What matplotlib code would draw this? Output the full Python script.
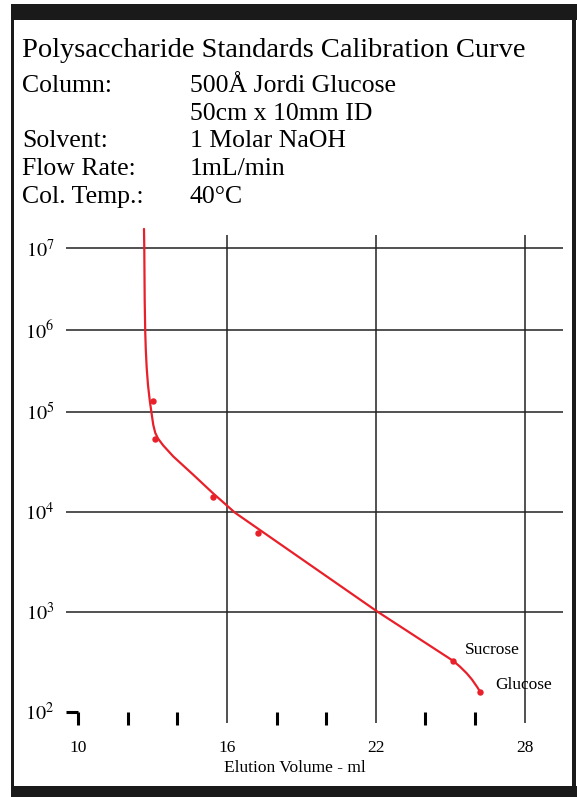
import numpy as np
import matplotlib
matplotlib.use("Agg")
import matplotlib.pyplot as plt
from matplotlib.patches import Rectangle

plt.rcParams["font.family"] = ["Liberation Serif", "DejaVu Serif"]
plt.rcParams["mathtext.fontset"] = "stix"

# Calibration curve (elution volume ml, molecular weight)
curve_vol = [12.649, 12.661, 12.677, 12.698, 12.722, 12.758, 12.81, 12.879,
             12.952, 13.024, 13.105, 13.214, 13.427, 13.831, 14.625, 15.444,
             16.319, 18.0, 22.032, 25.121, 25.391, 25.661, 25.875, 26.089, 26.198]
curve_mw = [1.73e7, 9.84e6, 2.34e6, 9.8e5, 5.73e5, 3.45e5, 2.14e5, 1.40e5,
            9.8e4, 7.41e4, 6.17e4, 5.43e4, 4.62e4, 3.59e4, 2.37e4, 1.53e4,
            9.84e3, 5.05e3, 1.02e3, 324, 284, 244, 211, 177, 160]

# Standards (dots)
std_vol = [13.01, 13.08, 15.44, 17.23, 25.12, 26.2]
std_mw = [1.36e5, 5.4e4, 1.4e4, 6.1e3, 324, 160]
std_names = ["", "", "", "", "Sucrose", "Glucose"]

y_decades = [1e2, 1e3, 1e4, 1e5, 1e6, 1e7]
y_labels = ["$10^{2}$", "$10^{3}$", "$10^{4}$", "$10^{5}$", "$10^{6}$", "$10^{7}$"]
x_major = [10, 16, 22, 28]
x_minor = [10, 12, 14, 18, 20, 24, 26]

info_keys = ["Column:", "", "Solvent:", "Flow Rate:", "Col. Temp.:"]
info_vals = ["500Å Jordi Glucose", "50cm x 10mm ID", "1 Molar NaOH", "1mL/min", "40°C"]

RED = "#e8202a"
GRID = "#222222"

# the upper decades on the original sheet are squeezed
K = 0.818


def fwd(y):
    t = np.log10(np.clip(y, 1e-300, None))
    return np.where(t <= 5, t, 5 + (t - 5) * K)


def inv(T):
    T = np.asarray(T, dtype=float)
    return 10 ** np.where(T <= 5, T, 5 + (T - 5) / K)


W, H = 577, 797
fig = plt.figure(figsize=(W / 100, H / 100), dpi=100)

# frame
def px_rect(x0, y0, x1, y1):
    fig.add_artist(Rectangle((x0 / W, 1 - y1 / H), (x1 - x0) / W, (y1 - y0) / H,
                             transform=fig.transFigure, color="#1a1a1a", lw=0))

px_rect(11, 4, 577, 20)
px_rect(11, 786, 577, 797)
px_rect(11, 4, 14, 797)
px_rect(572, 4, 576, 797)

# header text
fig.text(22 / W, 1 - 57 / H, "Polysaccharide Standards Calibration Curve",
         fontsize=20.5, va="baseline", ha="left")
for i, (k, v) in enumerate(zip(info_keys, info_vals)):
    yb = 1 - (92 + i * 27.7) / H
    fig.text(22 / W, yb, k, fontsize=18.5, va="baseline", ha="left")
    fig.text(190 / W, yb, v, fontsize=18.5, va="baseline", ha="left")

ax = fig.add_axes([60 / W, 1 - 730 / H, 510 / W, 505 / H])
ax.set_yscale("function", functions=(fwd, inv))
ax.set_xlim(9.262, 29.827)
ax.set_ylim(float(inv(1.82)), float(inv(6.87)))
for s in ax.spines.values():
    s.set_visible(False)

# grid
ax.hlines(y_decades[1:], 9.52, 29.54, color=GRID, lw=1.1)
ax.hlines(y_decades[0], 9.52, 10.0, color="black", lw=2.2)
ax.vlines(x_major[1:], float(inv(1.89)), float(inv(6.77)), color=GRID, lw=1.1)
ax.vlines(x_minor, float(inv(1.87)), y_decades[0], color="black", lw=2.2)

ax.set_yticks(y_decades)
ax.set_yticklabels(y_labels, fontsize=14.5)
ax.set_xticks(x_major)
ax.set_xticklabels([str(v) for v in x_major], fontsize=12.5)
ax.tick_params(length=0, axis="y", pad=4)
ax.tick_params(length=0, axis="x", pad=7)
ax.minorticks_off()

# curve and standards
ax.plot(curve_vol, curve_mw, color=RED, lw=1.6, solid_capstyle="round",
        solid_joinstyle="round", zorder=3)
ax.plot(std_vol, std_mw, "o", color=RED, ms=3.6, zorder=4)
ax.text(25.59, 417, std_names[4], fontsize=12.5, va="center", ha="left")
ax.text(26.8, 186, std_names[5], fontsize=12.5, va="center", ha="left")

fig.text(295 / W, 1 - 768 / H, "Elution Volume - ml", fontsize=12.5,
         ha="center", va="center")

fig.savefig("out.png", dpi=100)
